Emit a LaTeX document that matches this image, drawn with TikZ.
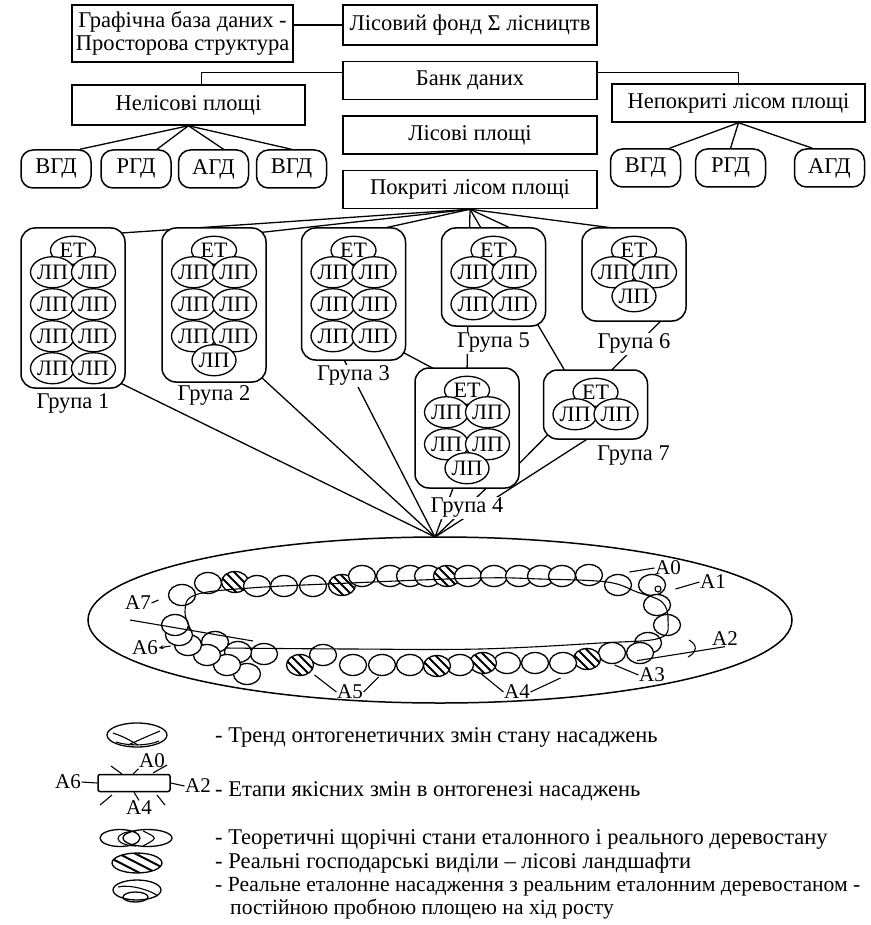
\documentclass[tikz,border=0pt]{standalone}
\usepackage{fontspec}
\setmainfont{Liberation Serif}
\usetikzlibrary{positioning,calc,backgrounds,shapes.geometric,arrows.meta}
\newcommand{\cellfont}{\fontsize{22}{24}\selectfont}
\newcommand{\stagefont}{\fontsize{21}{23}\selectfont}
\tikzset{
  dbbox/.style={
    rectangle, draw, line width=1.5pt, fill=white,
    minimum width=254pt, minimum height=38pt, inner sep=2pt
  },
  dbsmall/.style={rectangle, rounded corners=12pt, draw, line width=1.5pt,
    fill=white, minimum width=70pt, minimum height=38pt, inner sep=2pt},
  grpbox/.style={rectangle, rounded corners=14pt, draw, line width=1.5pt,
    fill=white, minimum width=104pt},
  etcell/.style={ellipse, draw, line width=1.3pt, fill=white,
    minimum width=45pt, minimum height=28pt, inner sep=0pt, font=\cellfont},
  lpcell/.style={etcell, minimum width=44pt, minimum height=31pt},
  grplabel/.style={fill=white, inner sep=1pt},
  link/.style={line width=1.3pt},
  stage/.style={inner sep=0.5pt, font=\stagefont},
  chaincell/.style={draw, line width=1.3pt, fill=white},
  trend/.style={line width=1.1pt},
  legtext/.style={anchor=base west, inner sep=0pt},
  hcell/.pic={
    \fill[white] (0,0) ellipse [x radius=13.5pt, y radius=10.5pt];
    \begin{scope}
      \clip (0,0) ellipse [x radius=13.5pt, y radius=10.5pt];
      \foreach \d in {-9,0,9}
        \draw[line width=2pt] (\d-14,-14) -- (\d+14,14);
    \end{scope}
    \draw[line width=1.3pt] (0,0) ellipse [x radius=13.5pt, y radius=10.5pt];
  },
}

\begin{document}
\begin{tikzpicture}[x=1pt, y=-1pt, font=\fontsize{22.5}{23}\selectfont]
  \useasboundingbox (0,0) rectangle (870,925);

  % data bank
  \node[dbbox, minimum height=40pt] (fond) at (470,25) {Лісовий фонд Σ лісництв};
  \node[dbbox, below=15pt of fond] (bank) {Банк даних};
  \node[dbbox, below=15pt of bank] (lisovi) {Лісові площі};
  \node[dbbox, below=15pt of lisovi] (pokr) {Покриті лісом площі};
  \node[dbbox, minimum width=221pt, minimum height=57pt, align=center] (graf) at (182.5,33.5)
    {Графічна база даних -\\Просторова структура};
  \node[dbbox, minimum width=233pt, minimum height=40pt] (nelis) at (188.5,105) {Нелісові площі};
  \node[dbbox, minimum width=253pt] (nepok) at (738.5,103) {Непокриті лісом площі};

  \foreach \i/\x/\t in {1/56/ВГД, 2/136/РГД, 3/213.5/АГД, 4/291.5/ВГД}
    \node[dbsmall] (nb\i) at (\x,169) {\t};
  \foreach \i/\x/\t in {1/645.5/ВГД, 2/730.5/РГД, 3/829.5/АГД}
    \node[dbsmall] (pb\i) at (\x,168) {\t};

  % groups
  \node[grpbox, minimum height=160pt] (g1) at (73,308) {};
  \node[grpbox, minimum height=154pt] (g2) at (214,305) {};
  \node[grpbox, minimum height=132pt] (g3) at (353.5,294) {};
  \node[grpbox, minimum height=120pt] (g4) at (467,428) {};
  \node[grpbox, minimum height=98pt] (g5) at (493.5,277) {};
  \node[grpbox, minimum height=93pt] (g6) at (634,274.5) {};
  \node[grpbox, minimum height=69pt] (g7) at (595.5,404.5) {};

  \foreach \g/\nrows/\xtra in {g1/4/0, g2/3/1, g3/3/0, g4/2/1, g5/2/0, g6/1/1, g7/1/0} {
    \node[etcell] (\g-et) at ($(\g.north)+(0,23)$) {ЕТ};
    \foreach \r in {1,...,\nrows} {
      \node[lpcell] (\g-l\r) at ($(\g-et)+(-20.5,32*\r-10)$) {ЛП};
      \node[lpcell] (\g-r\r) at ($(\g-et)+(20.5,32*\r-10)$) {ЛП};
    }
    \ifnum\xtra=1 \node[lpcell] (\g-x) at ($(\g-et)+(0,32*\nrows+14)$) {ЛП}; \fi
  }

  \node[grplabel, below=4pt of g1] (g1lab) {Група 1};
  \node[grplabel, below=2pt of g2] (g2lab) {Група 2};
  \node[grplabel, below=4pt of g3] (g3lab) {Група 3};
  \node[grplabel, below=8pt of g4] (g4lab) {Група 4};
  \node[grplabel, below=5pt of g5] (g5lab) {Група 5};
  \node[grplabel, below=11pt of g6] (g6lab) {Група 6};
  \node[grplabel, below=5pt of g7, xshift=38pt] (g7lab) {Група 7};

  \coordinate (conv) at (435,537);

  \begin{scope}[on background layer]
    \draw[link] (fond.west -| graf.east) -- (fond.west);
    \draw[link] ([yshift=8pt]bank.west) -| ([xshift=13pt]nelis.north);
    \draw[link] ([yshift=8pt]bank.east) -| (nepok.north);
    \draw[link] (nelis.south) -- ([xshift=24pt]nb1.north);
    \draw[link] (nelis.south) -- ([xshift=21pt]nb2.north);
    \draw[link] (nelis.south) -- ([xshift=10pt]nb3.north);
    \draw[link] (nelis.south) -- (nb4.north);
    \draw[link] (nepok.south) -- ([xshift=24pt]pb1.north);
    \draw[link] (nepok.south) -- (pb2.north);
    \draw[link] (nepok.south) -- ([xshift=-17pt]pb3.north);
    % covered areas to groups
    \draw[link] (pokr.south) -- ([xshift=-8pt,yshift=-6pt]g1.north east);
    \draw[link] (pokr.south) -- ([xshift=-13pt,yshift=-6pt]g2.north east);
    \draw[link] (pokr.south) -- ([xshift=7pt,yshift=-6pt]g3.north);
    \draw[link] (pokr.south) -- ([yshift=-6pt]g4.north);
    \draw[link] (pokr.south) -- ([xshift=-28pt,yshift=-6pt]g7.north);
    \draw[link] (pokr.south) -- ([xshift=28pt,yshift=-6pt]g5.north);
    \draw[link] (pokr.south) -- ([xshift=19pt,yshift=-6pt]g6.north);
    \draw[link] ([xshift=-12pt,yshift=13pt]g3.south east) -- ([xshift=30pt,yshift=-7pt]g4.north west);
    \draw[link] ([xshift=31pt,yshift=5pt]g6.south) -- ([xshift=12pt,yshift=-5pt]g7.north);
    \draw[link] ([xshift=12pt,yshift=12pt]g7.south west) -- ([xshift=-7pt,yshift=-42pt]g4.east);
    % groups to trend
    \draw[link] ([xshift=-6pt,yshift=6pt]g1.south east) -- (conv);
    \draw[link] ([xshift=-6pt,yshift=6pt]g2.south east) -- (conv);
    \draw[link] ([xshift=-12pt,yshift=6pt]g3.south) -- (conv);
    \draw[link] ([xshift=-12pt,yshift=6pt]g4.south) -- (conv);
    \draw[link] ([xshift=25pt,yshift=6pt]g4.south) -- (conv);
    \draw[link] ([yshift=6pt]g7.south) -- (conv);
  \end{scope}

  % ontogenesis trend
  \draw[line width=1.5pt] (440,620) ellipse [x radius=352pt, y radius=83pt];
  \foreach \x/\y/\h in {182/595/0, 208/583/0, 235/582/1, 257/586/0, 284/586/0, 313/586/0,
      342/585/1, 362/576/0, 390/576/0, 410/576/0, 428/576/0, 447/576/1, 468/576/0,
      494/576/0, 519/576/0, 541/576/0, 562/576/0, 589/575/0, 618/585/0, 652/585/0,
      657/605/0, 667/625/0, 648/643/0, 640/653/0, 612/653/0, 587/659/1, 563/663/0,
      535/663/0, 507/663/0, 483/663/1, 460/665/0, 437/666/1, 410/665/0, 382/665/0,
      353/665/0, 323/655/0, 300/665/1, 264/654/0, 247/674/0, 238/652/0, 227/665/0,
      215/642/0, 207/655/0, 188/645/0, 179/635/0, 175/625/0} {
    \ifnum\h=1 \pic at (\x,\y) {hcell};
    \else \draw[chaincell] (\x,\y) ellipse [x radius=13.5pt, y radius=10.5pt]; \fi
  }
  \draw[trend] plot[smooth, tension=0.6] coordinates {(225,648) (350,649) (480,649)
    (600,643) (660,638) (668,620) (662,602) (637,592) (607,582) (540,579) (480,578)
    (350,583) (250,588) (195,595) (185,612) (192,632)};
  \draw[trend] (130,620) -- (253,641);
  \draw[trend] (689,640) .. controls (698,645) and (697,652) .. (688,657);
  \draw[trend] (658,589) circle [radius=3pt];

  \node[stage] (a0) at (668,568) {A0};
  \node[stage] (a1) at (713,582) {A1};
  \node[stage] (a2) at (725,639) {A2};
  \node[stage] (a3) at (652,675) {A3};
  \node[stage] (a4) at (517,692) {A4};
  \node[stage] (a5) at (350,692) {A5};
  \node[stage] (a6) at (145,648) {A6};
  \node[stage] (a7) at (138,603) {A7};
  \draw[trend] (a0.west) -- ++(-25,4);
  \draw[trend] (a1.west) -- ++(-24,7);
  \draw[trend] (a2.south) -- ++(-88,14);
  \draw[trend] (a3.west) -- ++(-24,-10);
  \draw[trend] (a4.west) -- ++(-22,-18);
  \draw[trend] (a4.east) -- ++(30,-14);
  \draw[trend] (a5.west) -- ++(-22,-17);
  \draw[trend] (a5.east) -- ++(15,-15);
  \draw[trend, -{Stealth[length=5pt,width=4pt]}] ($(a6.east)+(12,-2)$) -- (a6.east);
  \draw[trend] (a7.east) -- ++(7,-3);

  % legend
  \draw[line width=1.3pt] (137,735) ellipse [x radius=30pt, y radius=12pt];
  \draw[trend] (113,733) .. controls (124,737) .. (138,745);
  \draw[trend] (160,731) .. controls (148,736) .. (128,745);
  \draw[trend] (116,742) .. controls (128,746) and (148,746) .. (159,741);
  \node[legtext] (leg1) at (215,742) {- Тренд онтогенетичних змін стану насаджень};

  \node[draw, line width=1.5pt, rounded corners=2pt, minimum width=72pt,
    minimum height=17pt, inner sep=0pt] (stagebox) at (134,783) {};
  \node[stage] (la0) at (152,761) {A0};
  \node[stage] (la2) at (198,786) {A2};
  \node[stage] (la4) at (139,808) {A4};
  \node[stage] (la6) at (68,782) {A6};
  \draw[trend] (stagebox.west) -- (la6.east);
  \draw[trend] (stagebox.east) -- (la2.west);
  \draw[trend] (133,774) -- (la0.south west);
  \draw[trend] (stagebox.south) -- (la4.north);
  \draw[trend] (111,766) -- (122,774);
  \draw[trend] (153,773) -- (167,765);
  \draw[trend] (100,805) -- (112,795);
  \draw[trend] (157,795) -- (165,805);
  \node[legtext] (leg2) at (215,796) {- Етапи якісних змін в онтогенезі насаджень};

  \draw[line width=1.3pt] (120,838) ellipse [x radius=20pt, y radius=8.5pt];
  \draw[line width=1.3pt] (147.5,838) ellipse [x radius=24.5pt, y radius=8.5pt];
  \draw[trend] (136,831) .. controls (112,832) and (112,845) .. (136,846);
  \draw[trend] (143,831) .. controls (158,838) .. (143,846);
  \node[legtext] (leg3) at (215,844) {- Теоретичні щорічні стани еталонного і реального деревостану};

  \pic[xscale=1.85, yscale=0.95] at (137,863) {hcell};
  \node[legtext] (leg4) at (215,868) {- Реальні господарські виділи – лісові ландшафти};

  \draw[line width=1.3pt] (137,890) ellipse [x radius=24pt, y radius=10pt];
  \draw[line width=1.3pt] (135.5,897) ellipse [x radius=12.5pt, y radius=5pt];
  \draw[trend] (118,887) .. controls (130,884) and (150,890) .. (158,896);
  \node[legtext, font=\fontsize{21.6}{23}\selectfont] (leg5) at (215,891)
    {- Реальне еталонне насадження з реальним еталонним деревостаном -};
  \node[legtext, font=\fontsize{21.6}{23}\selectfont] (leg5b) at (230,914)
    {постійною пробною площею на хід росту};
\end{tikzpicture}
\end{document}
